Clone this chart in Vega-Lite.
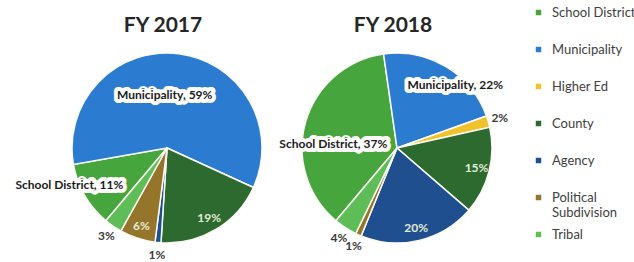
{
  "$schema": "https://vega.github.io/schema/vega-lite/v6.json",
  "background": "white",
  "padding": {"left": 15, "top": 6, "right": 0, "bottom": 0},
  "bounds": "flush",
  "spacing": 0,
  "config": {"view": {"stroke": null}, "font": "Lato"},
  "data": {
    "values": [
      {"year": "FY 2017", "category": "School District", "idx": 1, "share": 0.11},
      {"year": "FY 2017", "category": "Municipality", "idx": 2, "share": 0.59},
      {"year": "FY 2017", "category": "County", "idx": 4, "share": 0.19},
      {"year": "FY 2017", "category": "Agency", "idx": 5, "share": 0.01},
      {"year": "FY 2017", "category": "Political Subdivision", "idx": 6, "share": 0.06},
      {"year": "FY 2017", "category": "Tribal", "idx": 7, "share": 0.03},
      {"year": "FY 2018", "category": "School District", "idx": 1, "share": 0.37},
      {"year": "FY 2018", "category": "Municipality", "idx": 2, "share": 0.22},
      {"year": "FY 2018", "category": "Higher Ed", "idx": 3, "share": 0.02},
      {"year": "FY 2018", "category": "County", "idx": 4, "share": 0.15},
      {"year": "FY 2018", "category": "Agency", "idx": 5, "share": 0.20},
      {"year": "FY 2018", "category": "Political Subdivision", "idx": 6, "share": 0.01},
      {"year": "FY 2018", "category": "Tribal", "idx": 7, "share": 0.04}
    ]
  },
  "facet": {
    "column": {"field": "year", "type": "nominal", "title": null, "header": {"labels": false}}
  },
  "spec": {
    "width": 230,
    "height": 224,
    "encoding": {
      "theta": {"field": "share", "type": "quantitative", "stack": "normalize", "scale": {"domain": [0, 1], "range": [3.8397, 10.1229]}},
      "order": {"field": "idx", "type": "quantitative"}
    },
    "layer": [
      {
        "mark": {"type": "arc", "outerRadius": 95, "stroke": "#fbfbf4", "strokeWidth": 1.5},
        "encoding": {
          "color": {
            "field": "category", "type": "nominal",
            "scale": {
              "domain": ["School District", "Municipality", "Higher Ed", "County", "Agency", "Political Subdivision", "Tribal"],
              "range": ["#46a53c", "#2b7bd1", "#f0c22b", "#2c6a30", "#1f4f8e", "#95752a", "#5ebd56"]
            },
            "legend": {
              "orient": "none", "legendX": 480, "legendY": -30, "title": null,
              "symbolType": "square", "symbolSize": 30, "symbolStrokeWidth": 0,
              "labelFontSize": 13, "labelFont": "Lato", "labelColor": "#404040",
              "gridAlign": "all", "rowPadding": 8, "labelOffset": 7, "labelLimit": 200,
              "labelExpr": "datum.label == 'Political Subdivision' ? ['Political', 'Subdivision'] : datum.label"
            }
          }
        }
      },
      {
        "mark": {"type": "text", "radius": 122, "dx": -4, "fontSize": 21, "fontWeight": "bold", "color": "#262626"},
        "encoding": {
          "theta": {"value": 0},
          "text": {"condition": {"test": "datum.idx == 1", "field": "year"}, "value": ""}
        }
      },
      {
        "mark": {"type": "text", "radius": 82, "fontSize": 12, "fontWeight": "bold", "color": "#e2ecd4"},
        "encoding": {
          "text": {"condition": {"test": "(datum.year == 'FY 2017' && (datum.category == 'County' || datum.category == 'Political Subdivision')) || (datum.year == 'FY 2018' && (datum.category == 'County' || datum.category == 'Agency'))", "field": "share", "type": "quantitative", "format": ".0%"}, "value": ""}
        }
      },
      {
        "mark": {"type": "text", "radius": 107, "fontSize": 12, "fontWeight": "bold", "color": "#3a3a3a"},
        "encoding": {
          "text": {"condition": {"test": "(datum.year == 'FY 2017' && (datum.category == 'Tribal' || datum.category == 'Agency')) || (datum.year == 'FY 2018' && (datum.category == 'Higher Ed' || datum.category == 'Political Subdivision' || datum.category == 'Tribal'))", "field": "share", "type": "quantitative", "format": ".0%"}, "value": ""}
        }
      },
      {
        "mark": {"type": "text", "radius": 53, "dx": -9, "dy": 0, "fontSize": 12, "fontWeight": "bold", "fill": "white", "stroke": "white", "strokeWidth": 8, "strokeJoin": "round",
          "text": {"expr": "datum.year == 'FY 2017' && datum.category == 'Municipality' ? datum.category + ', ' + format(datum.share, '.0%') : ''"}}
      },
      {
        "mark": {"type": "text", "radius": 53, "dx": -9, "dy": 0, "fontSize": 12, "fontWeight": "bold", "color": "#1a1a1a",
          "text": {"expr": "datum.year == 'FY 2017' && datum.category == 'Municipality' ? datum.category + ', ' + format(datum.share, '.0%') : ''"}}
      },
      {
        "mark": {"type": "text", "radius": 100, "dx": -11, "dy": -13.5, "fontSize": 12, "fontWeight": "bold", "fill": "white", "stroke": "white", "strokeWidth": 8, "strokeJoin": "round",
          "text": {"expr": "datum.year == 'FY 2017' && datum.category == 'School District' ? datum.category + ', ' + format(datum.share, '.0%') : ''"}}
      },
      {
        "mark": {"type": "text", "radius": 100, "dx": -11, "dy": -13.5, "fontSize": 12, "fontWeight": "bold", "color": "#1a1a1a",
          "text": {"expr": "datum.year == 'FY 2017' && datum.category == 'School District' ? datum.category + ', ' + format(datum.share, '.0%') : ''"}}
      },
      {
        "mark": {"type": "text", "radius": 80, "dx": 17, "dy": 5.5, "fontSize": 12, "fontWeight": "bold", "fill": "white", "stroke": "white", "strokeWidth": 8, "strokeJoin": "round",
          "text": {"expr": "datum.year == 'FY 2018' && datum.category == 'Municipality' ? datum.category + ', ' + format(datum.share, '.0%') : ''"}}
      },
      {
        "mark": {"type": "text", "radius": 80, "dx": 17, "dy": 5.5, "fontSize": 12, "fontWeight": "bold", "color": "#1a1a1a",
          "text": {"expr": "datum.year == 'FY 2018' && datum.category == 'Municipality' ? datum.category + ', ' + format(datum.share, '.0%') : ''"}}
      },
      {
        "mark": {"type": "text", "radius": 60, "dx": -6, "dy": 12, "fontSize": 12, "fontWeight": "bold", "fill": "white", "stroke": "white", "strokeWidth": 8, "strokeJoin": "round",
          "text": {"expr": "datum.year == 'FY 2018' && datum.category == 'School District' ? datum.category + ', ' + format(datum.share, '.0%') : ''"}}
      },
      {
        "mark": {"type": "text", "radius": 60, "dx": -6, "dy": 12, "fontSize": 12, "fontWeight": "bold", "color": "#1a1a1a",
          "text": {"expr": "datum.year == 'FY 2018' && datum.category == 'School District' ? datum.category + ', ' + format(datum.share, '.0%') : ''"}}
      }
    ]
  }
}
